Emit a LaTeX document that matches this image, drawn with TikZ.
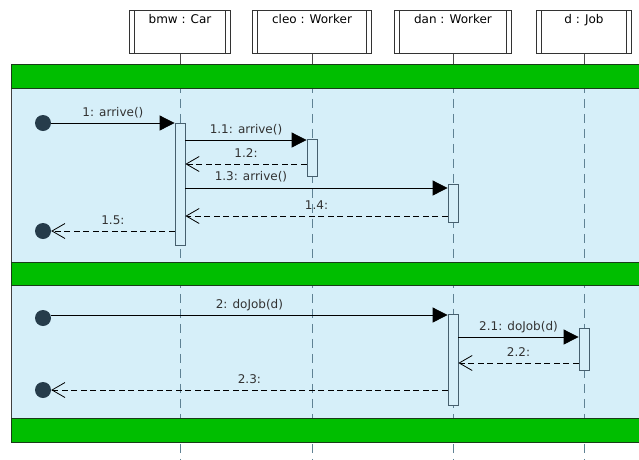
\documentclass[tikz,border=0pt]{standalone}
\usepackage{fontspec}
\setmainfont{DejaVu Sans}
\usetikzlibrary{arrows.meta}

\definecolor{lane}{RGB}{214,239,249}
\definecolor{band}{RGB}{0,190,0}
\definecolor{bandline}{RGB}{25,60,25}
\definecolor{lifeline}{RGB}{95,130,148}
\definecolor{actline}{RGB}{70,95,110}
\definecolor{dotcol}{RGB}{38,60,75}
\definecolor{msgtext}{RGB}{50,50,50}

\tikzset{
	obj/.style={draw=black!80, fill=white, line width=0.8pt, anchor=north,
		inner ysep=3pt, text height=10pt, text depth=27pt,
		font=\fontsize{12}{14}\selectfont,
		path picture={
			\draw[line width=0.8pt] ([xshift=5pt]path picture bounding box.north west) -- ([xshift=5pt]path picture bounding box.south west);
			\draw[line width=0.8pt] ([xshift=-5pt]path picture bounding box.north east) -- ([xshift=-5pt]path picture bounding box.south east);
		}},
	life/.style={draw=lifeline, line width=0.9pt, dash pattern=on 9pt off 6pt},
	stub/.style={draw=black!70, line width=0.9pt},
	act/.style={draw=actline, fill=lane, line width=0.8pt, minimum width=10pt, inner sep=0pt, anchor=north},
	dot/.style={circle, fill=dotcol, minimum size=16pt, inner sep=0pt},
	bar/.style={draw=bandline, fill=band, line width=0.9pt},
	call/.style={-{Triangle[length=15pt,width=15pt]}, line width=0.8pt},
	reply/.style={-{Straight Barb[length=13pt,width=15pt]}, line width=0.8pt, dash pattern=on 6pt off 3.5pt},
	msg/.style={above=3pt, midway, text=msgtext, text depth=1.5pt, inner sep=2pt, font=\fontsize{12}{14}\selectfont}
}

\begin{document}
\begin{tikzpicture}[x=1pt, y=-1pt]
	\useasboundingbox (0,0) rectangle (639,459);

	% frame and lanes
	\draw[draw=black!75, fill=lane, line width=0.9pt] (11,64) rectangle (660,442);

	% objects
	\node[obj, minimum width=101pt] (bmw) at (180,10) {bmw : Car};
	\node[obj, minimum width=119pt] (cleo) at (312,10) {cleo : Worker};
	\node[obj, minimum width=117pt] (dan) at (453,10) {dan : Worker};
	\node[obj, minimum width=95pt] (job) at (584,10) {d : Job};

	\coordinate (top) at (0,64);
	\coordinate (bot) at (0,459);
	\foreach \o in {bmw,cleo,dan,job} {
		\draw[life] (\o.south) -- (\o.south |- bot);
		\draw[stub] (\o.south) -- (\o.south |- top);
	}

	% bands
	\draw[bar] (11,64) rectangle (660,88);
	\draw[bar] (11,262) rectangle (660,285);
	\draw[bar] (11,418) rectangle (660,442);

	% activations
	\node[act, minimum height=122pt] (a1) at (180,123) {};
	\node[act, minimum height=37pt] (a2) at (312,139) {};
	\node[act, minimum height=38pt] (a3) at (453,184) {};
	\node[act, minimum height=91pt] (a4) at (453,314) {};
	\node[act, minimum height=42pt] (a5) at (584,328) {};

	% found and lost messages
	\node[dot] (s1) at (43,123) {};
	\node[dot] (e1) at (43,231) {};
	\node[dot] (s2) at (43,318) {};
	\node[dot] (e2) at (43,390) {};

	% rows
	\coordinate (r1) at (0,123);
	\coordinate (r2) at (0,140);
	\coordinate (r3) at (0,164);
	\coordinate (r4) at (0,188);
	\coordinate (r5) at (0,216);
	\coordinate (r6) at (0,231);
	\coordinate (r7) at (0,315);
	\coordinate (r8) at (0,337);
	\coordinate (r9) at (0,363);
	\coordinate (r10) at (0,390);

	% first interaction
	\draw[call] (s1) -- (a1.west |- r1) node[msg] {1: arrive()};
	\draw[call] (a1.east |- r2) -- (a2.west |- r2) node[msg] {1.1: arrive()};
	\draw[reply] (a2.west |- r3) -- (a1.east |- r3) node[msg] {1.2:};
	\draw[call] (a1.east |- r4) -- (a3.west |- r4) node[msg, pos=0.25, above=1pt] {1.3: arrive()};
	\draw[reply] (a3.west |- r5) -- (a1.east |- r5) node[msg] {1.4:};
	\draw[reply] (a1.west |- r6) -- (e1.east) node[msg] {1.5:};

	% second interaction
	\draw[call] (s2.east |- r7) -- (a4.west |- r7) node[msg] {2: doJob(d)};
	\draw[call] (a4.east |- r8) -- (a5.west |- r8) node[msg] {2.1: doJob(d)};
	\draw[reply] (a5.west |- r9) -- (a4.east |- r9) node[msg] {2.2:};
	\draw[reply] (a4.west |- r10) -- (e2.east) node[msg] {2.3:};
\end{tikzpicture}
\end{document}
